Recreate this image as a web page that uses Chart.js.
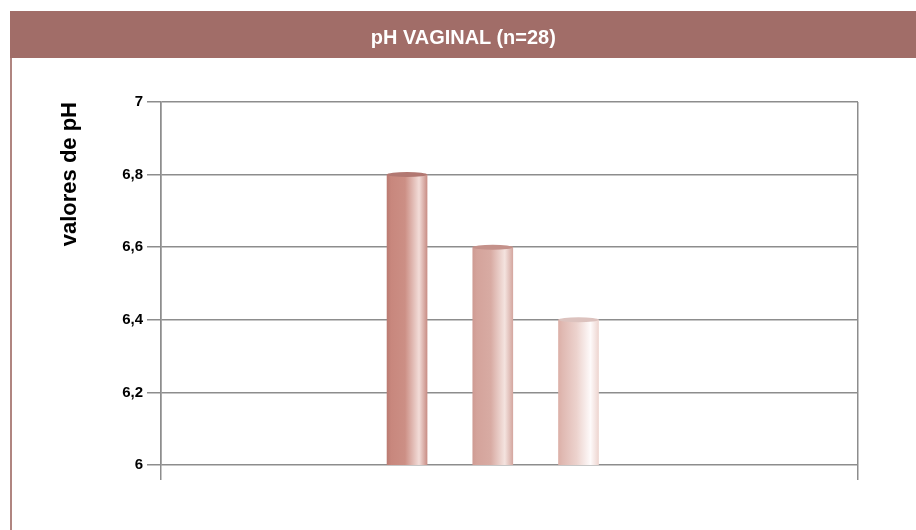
<!DOCTYPE html>
<html>
<head>
<meta charset="utf-8">
<script src="https://cdn.jsdelivr.net/npm/chart.js@4"></script>
<style>
    body { margin: 0; background: #fff; }
    #wrap { position: relative; width: 916px; height: 530px; overflow: hidden; }
    #chart { position: absolute; left: 0; top: 0; }
    #header {
        position: absolute; left: 10px; top: 11px; width: 906px; height: 47px;
        background: #a16d68; color: #fff; text-align: center;
        font: bold 21px 'Liberation Sans', Arial, sans-serif;
        line-height: 51px;
    }
    #header span { display: inline-block; transform: scaleX(0.95); }
    #side { position: absolute; left: 10px; top: 58px; width: 2px; height: 472px; background: #b08580; }
</style>
</head>
<body>
<div id="wrap">
    <canvas id="chart" width="916" height="530"></canvas>
    <div id="header"><span>pH VAGINAL (n=28)</span></div>
    <div id="side"></div>
</div>
<script>
// Chart data
const categories = ['Grupo 1', 'Grupo 2', 'Grupo 3'];
const phValues = [6.8, 6.6, 6.4];
const yTicks = [6, 6.2, 6.4, 6.6, 6.8, 7];
const yTitle = 'valores de pH';

// cylinder shading per bar: left edge, body, body, highlight, right edge
const barShades = [
    ['#bb7b72', '#c8877d', '#cc8f85', '#f2dcd8', '#c98f87'],
    ['#cf9b93', '#d4a39b', '#d8aba3', '#f4e3df', '#d5a8a1'],
    ['#dcb0a8', '#e0b9b2', '#ecd2cd', '#fefafa', '#eed6d1']
];
const capColors = ['#b27872', '#c4918a', '#dcc2be'];

const gridColor = '#8d8d8d';

function tickText(v) {
    return (Math.round(v * 10) / 10).toString().replace('.', ',');
}

function barGradient(context) {
    const chart = context.chart;
    const shades = barShades[context.dataIndex % barShades.length];
    if (!chart.chartArea || !context.parsed) return shades[1];
    const cx = chart.scales.x.getPixelForValue(context.parsed.x);
    const half = context.dataset.barThickness / 2;
    const g = chart.ctx.createLinearGradient(cx - half, 0, cx + half, 0);
    const stops = [0, 0.1, 0.45, 0.8, 1];
    stops.forEach((s, i) => g.addColorStop(s, shades[i]));
    return g;
}

// small ellipse on top of each bar, like the 3D cylinder caps
const capPlugin = {
    id: 'caps',
    afterDatasetsDraw(chart) {
        const ctx = chart.ctx;
        chart.getDatasetMeta(0).data.forEach((bar, i) => {
            ctx.save();
            ctx.beginPath();
            ctx.ellipse(bar.x, bar.y, bar.width / 2, 2.5, 0, 0, Math.PI * 2);
            ctx.fillStyle = capColors[i];
            ctx.fill();
            ctx.restore();
        });
    }
};

const ctx = document.getElementById('chart').getContext('2d');
new Chart(ctx, {
    type: 'bar',
    data: {
        datasets: [{
            label: yTitle,
            data: categories.map((c, i) => ({ x: i, y: phValues[i] })),
            backgroundColor: barGradient,
            borderWidth: 0,
            barThickness: 40
        }]
    },
    plugins: [capPlugin],
    options: {
        responsive: false,
        animation: false,
        layout: { padding: { left: 57, right: 58, top: 102, bottom: 50 } },
        plugins: {
            legend: { display: false },
            tooltip: { enabled: false }
        },
        scales: {
            x: {
                type: 'linear',
                min: -2.87,
                max: 5.26,
                offset: false,
                afterBuildTicks: axis => {
                    axis.ticks = [{ value: axis.min }, { value: axis.max }];
                },
                afterFit: axis => { axis.height = 15; },
                ticks: { display: false },
                grid: { color: gridColor, lineWidth: 1.5, tickLength: 15, offset: false },
                border: { display: false }
            },
            y: {
                min: 6,
                max: 7,
                afterBuildTicks: axis => {
                    axis.ticks = yTicks.map(v => ({ value: v }));
                },
                afterFit: axis => { axis.width = 104; },
                ticks: {
                    padding: 4,
                    color: '#000',
                    font: { family: "'Liberation Sans', Arial, sans-serif", size: 15, weight: 'bold' },
                    callback: v => tickText(v)
                },
                grid: { color: gridColor, lineWidth: 1.5, tickLength: 14 },
                border: { color: gridColor, width: 1.5 },
                title: {
                    display: true,
                    text: yTitle,
                    align: 'end',
                    color: '#000',
                    padding: 0,
                    font: { family: "'Liberation Sans', Arial, sans-serif", size: 22, weight: 'bold' }
                }
            }
        }
    }
});
</script>
</body>
</html>
